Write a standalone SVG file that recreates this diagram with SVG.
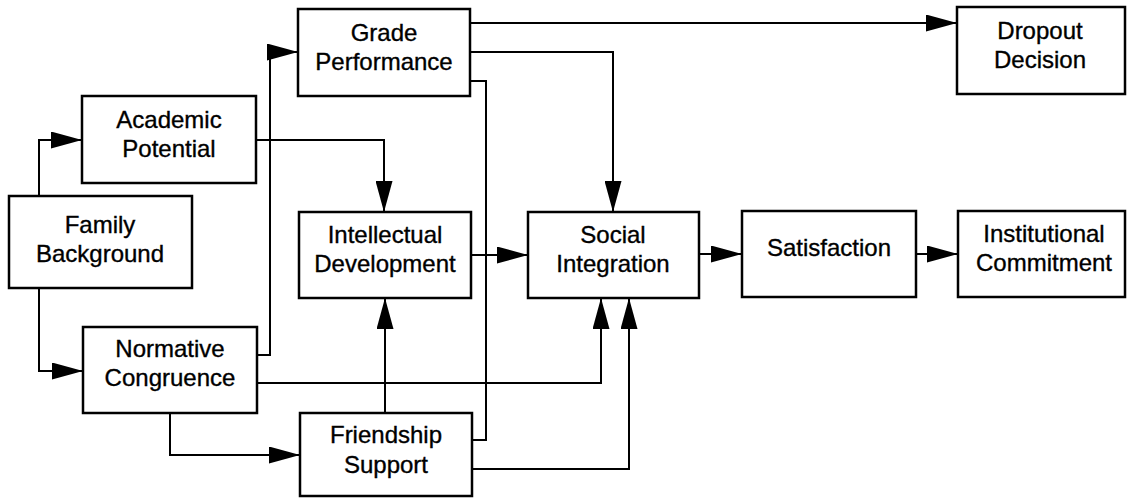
<svg xmlns="http://www.w3.org/2000/svg" width="1127" height="498" viewBox="0 0 1127 498">
  <style>
    .box { fill: #fff; stroke: #000; stroke-width: 2.5; }
    .lbl { font-family: "Liberation Sans", Arial, sans-serif; font-size: 24px; fill: #000; stroke: #000; stroke-width: 0.35; text-anchor: middle; }
    .wire { fill: none; stroke: #000; stroke-width: 2; }
    .arr { marker-end: url(#head); }
  </style>
  <defs>
    <marker id="head" markerUnits="userSpaceOnUse" markerWidth="31" markerHeight="17" refX="31" refY="8.5" orient="auto">
      <path d="M0,0 L31,8.5 L0,17 Z" fill="#000"/>
    </marker>
  </defs>
  <rect width="1127" height="498" fill="#fff"/>

  <g id="connectors">
    <!-- Family Background to Academic Potential -->
    <path class="wire arr" d="M39,196 V140 H82"/>
    <!-- Family Background to Normative Congruence -->
    <path class="wire arr" d="M39,288 V371 H83"/>
    <!-- Normative Congruence to Grade Performance -->
    <path class="wire arr" d="M257,355 H270 V52 H298"/>
    <!-- Academic Potential to Intellectual Development -->
    <path class="wire arr" d="M256,140 H384 V212"/>
    <!-- Grade Performance to Dropout Decision -->
    <path class="wire arr" d="M470,23 H957"/>
    <!-- Grade Performance to Social Integration -->
    <path class="wire arr" d="M470,52 H613 V212"/>
    <!-- Grade Performance to Friendship Support (no arrowhead) -->
    <path class="wire" d="M470,81 H486 V440 H472"/>
    <!-- Intellectual Development to Social Integration -->
    <path class="wire arr" d="M471,255 H528"/>
    <!-- Normative Congruence to Social Integration -->
    <path class="wire arr" d="M257,383 H601 V298"/>
    <!-- Friendship Support to Intellectual Development -->
    <path class="wire arr" d="M385,413 V298"/>
    <!-- Friendship Support to Social Integration -->
    <path class="wire arr" d="M472,469 H629 V298"/>
    <!-- Normative Congruence to Friendship Support -->
    <path class="wire arr" d="M170,413 V455 H300"/>
    <!-- Social Integration to Satisfaction -->
    <path class="wire arr" d="M699,254 H742"/>
    <!-- Satisfaction to Institutional Commitment -->
    <path class="wire arr" d="M916,254 H958"/>
  </g>

  <g id="academic-potential">
    <rect class="box" x="82" y="96" width="174" height="87"/>
    <text class="lbl" x="169" y="128">Academic</text>
    <text class="lbl" x="169" y="157">Potential</text>
  </g>
  <g id="grade-performance">
    <rect class="box" x="298" y="9" width="172" height="87"/>
    <text class="lbl" x="384" y="41">Grade</text>
    <text class="lbl" x="384" y="70">Performance</text>
  </g>
  <g id="dropout-decision">
    <rect class="box" x="957" y="7" width="168" height="87"/>
    <text class="lbl" x="1040" y="39">Dropout</text>
    <text class="lbl" x="1040" y="68">Decision</text>
  </g>
  <g id="family-background">
    <rect class="box" x="9" y="196" width="183" height="92"/>
    <text class="lbl" x="100" y="233">Family</text>
    <text class="lbl" x="100" y="262">Background</text>
  </g>
  <g id="normative-congruence">
    <rect class="box" x="83" y="327" width="174" height="86"/>
    <text class="lbl" x="170" y="357">Normative</text>
    <text class="lbl" x="170" y="386">Congruence</text>
  </g>
  <g id="intellectual-development">
    <rect class="box" x="299" y="212" width="172" height="86"/>
    <text class="lbl" x="385" y="243">Intellectual</text>
    <text class="lbl" x="385" y="272">Development</text>
  </g>
  <g id="social-integration">
    <rect class="box" x="528" y="212" width="171" height="86"/>
    <text class="lbl" x="613" y="243">Social</text>
    <text class="lbl" x="613" y="272">Integration</text>
  </g>
  <g id="friendship-support">
    <rect class="box" x="300" y="413" width="172" height="83"/>
    <text class="lbl" x="386" y="443">Friendship</text>
    <text class="lbl" x="386" y="473">Support</text>
  </g>
  <g id="satisfaction">
    <rect class="box" x="742" y="211" width="174" height="86"/>
    <text class="lbl" x="829" y="256">Satisfaction</text>
  </g>
  <g id="institutional-commitment">
    <rect class="box" x="958" y="211" width="167" height="86"/>
    <text class="lbl" x="1044" y="242">Institutional</text>
    <text class="lbl" x="1044" y="271">Commitment</text>
  </g>
</svg>
